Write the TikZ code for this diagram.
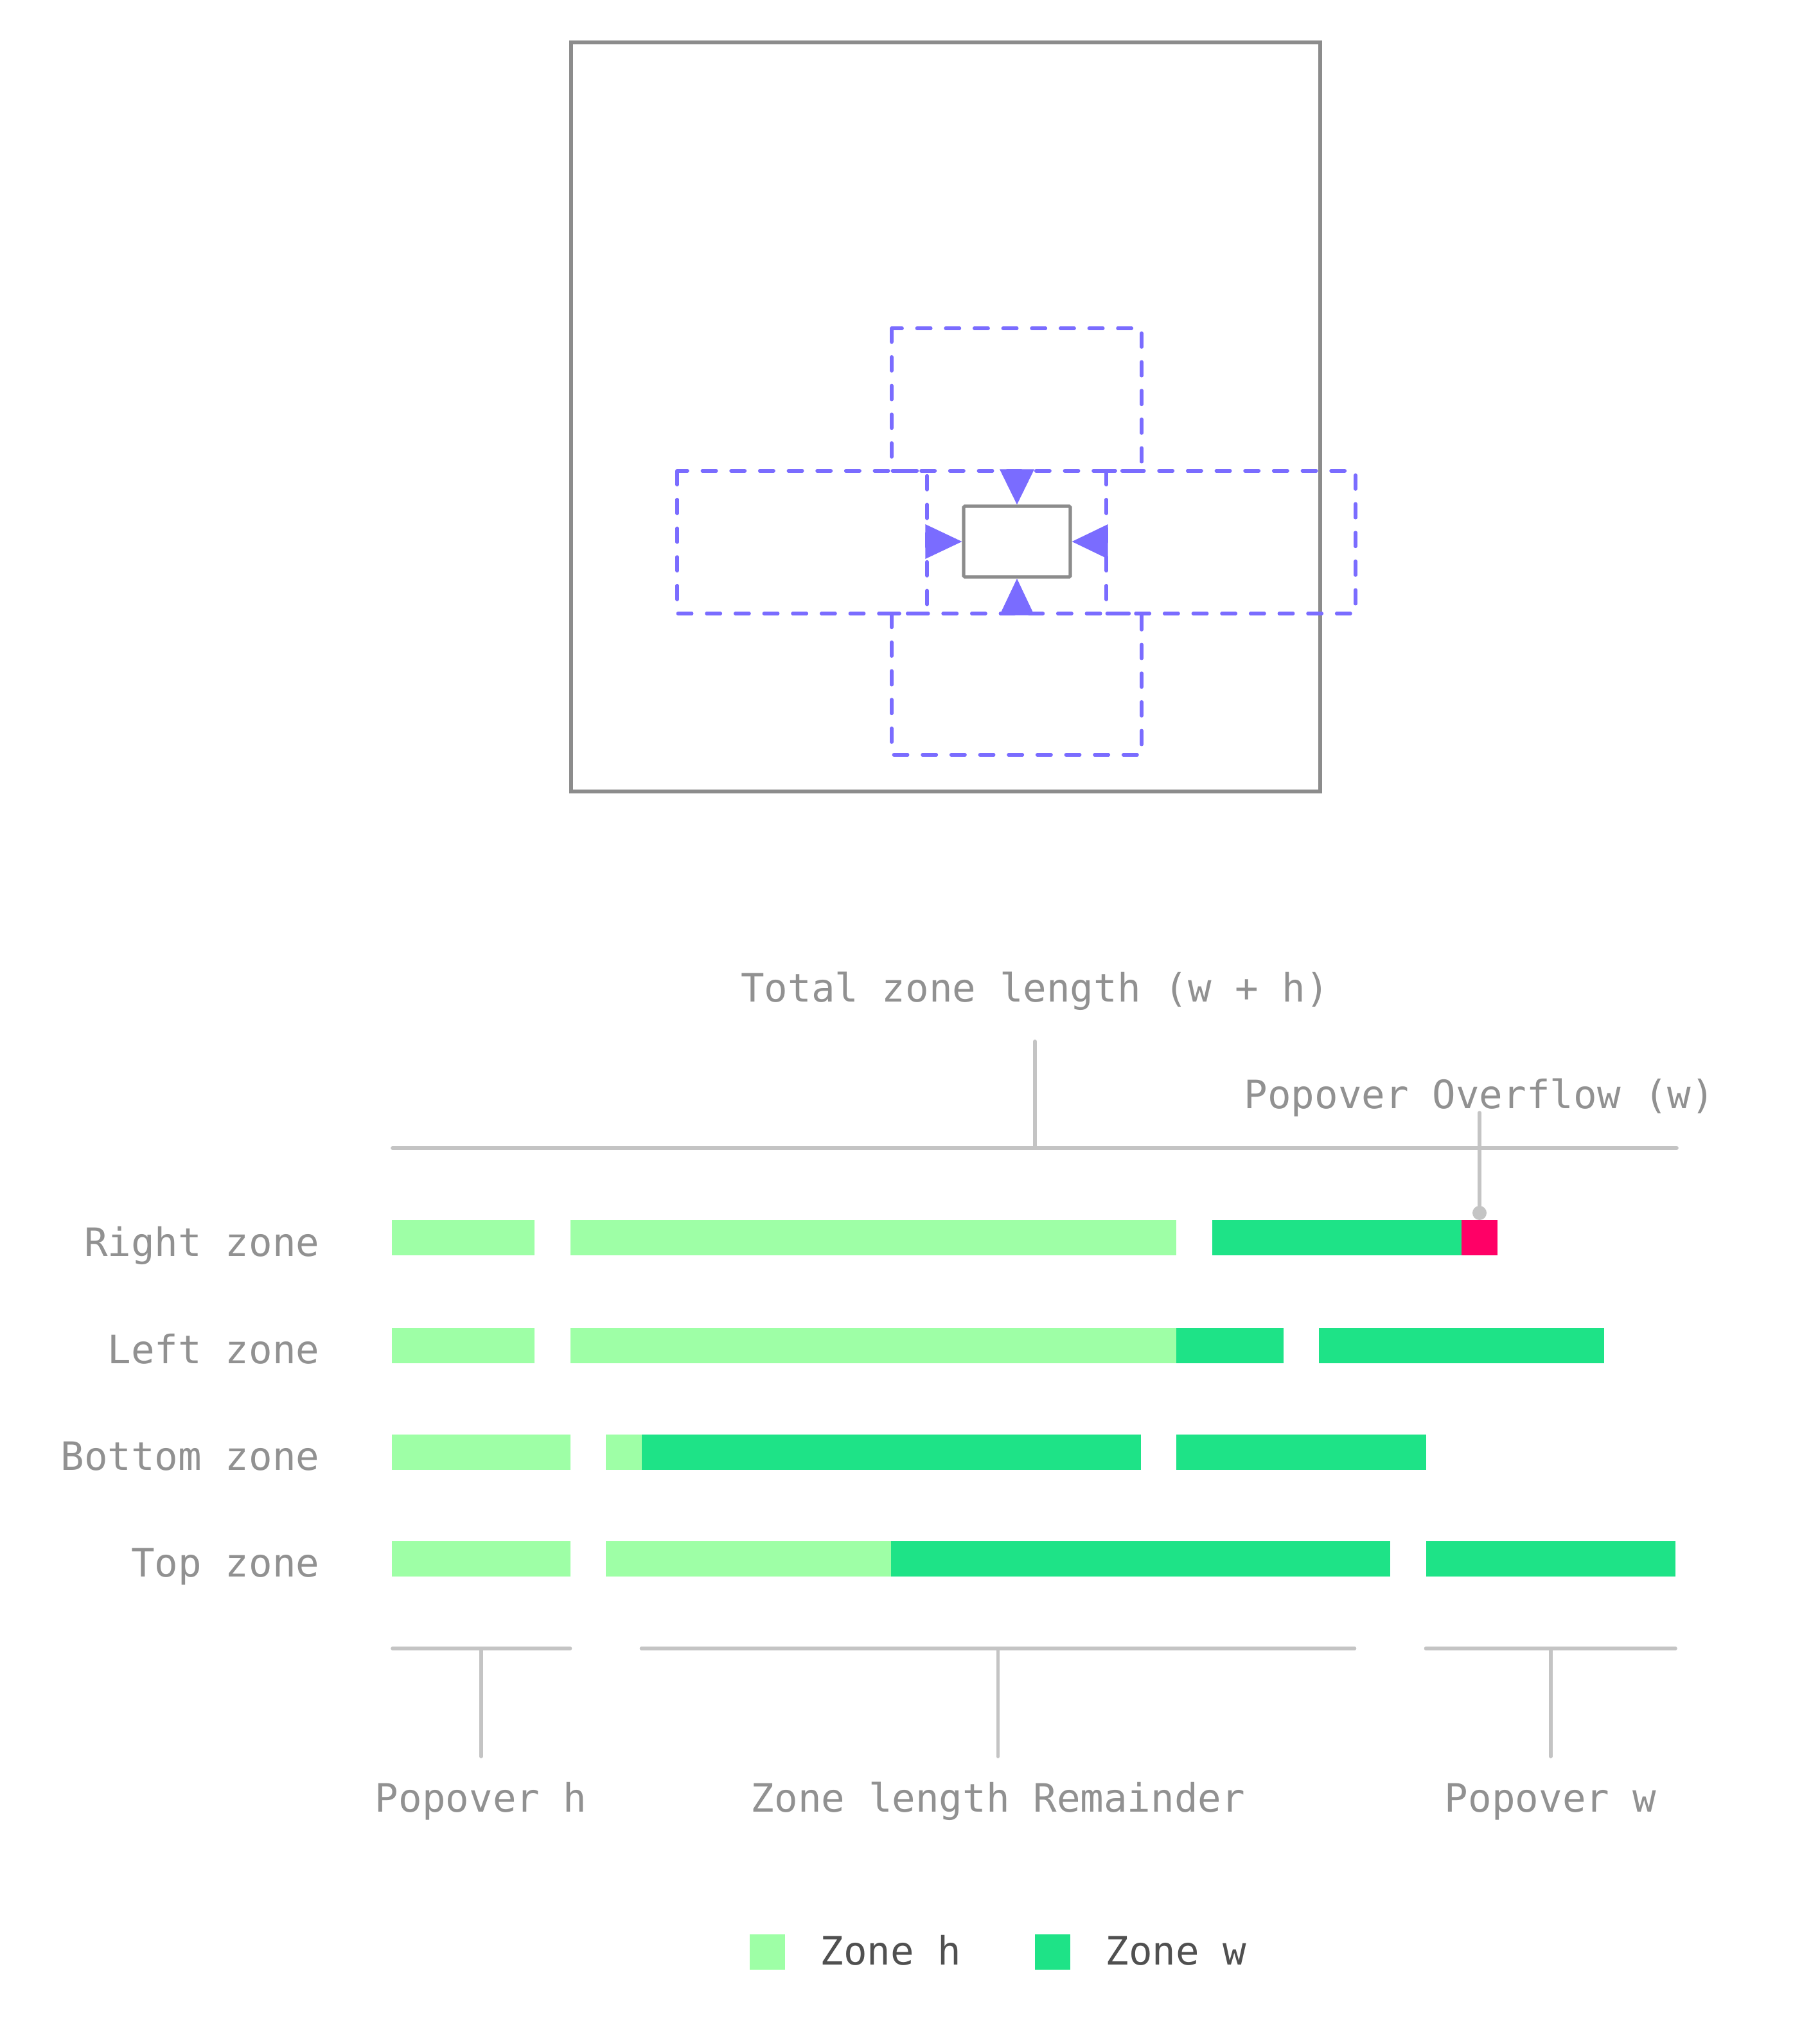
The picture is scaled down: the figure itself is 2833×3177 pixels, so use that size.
\documentclass[tikz,border=0pt]{standalone}
\usepackage{fontspec}
\setmonofont{DejaVu Sans Mono}
\usetikzlibrary{arrows.meta}
\definecolor{gtext}{RGB}{145,145,145}
\definecolor{gdark}{RGB}{80,80,80}
\definecolor{gline}{RGB}{196,196,196}
\definecolor{gframe}{RGB}{140,140,140}
\definecolor{purp}{RGB}{122,108,255}
\definecolor{zh}{RGB}{158,255,166}
\definecolor{zw}{RGB}{30,227,135}
\definecolor{ovf}{RGB}{255,0,102}
\newcommand\zb[4]{\fill[#1] ({610+55.5*#2},#4) rectangle ({610+55.5*#3},{#4+55});}
\begin{document}
\begin{tikzpicture}[x=0.01cm,y=-0.01cm,
  lbl/.style={font=\fontsize{17.3pt}{20pt}\ttfamily, text=gtext, inner sep=0pt},
  leg/.style={font=\fontsize{17.3pt}{20pt}\ttfamily, text=gdark, inner sep=0pt},
  guide/.style={draw=gline, line width=1.6pt, line cap=round},
  dbox/.style={draw=purp, line width=1.55pt, dash pattern=on 6.1pt off 6.6pt, line cap=round},
  frame/.style={draw=gframe, line width=1.7pt},
  arr/.style={fill=purp}]
\useasboundingbox (0,0) rectangle (2833,3177);
\fill[white] (0,0) rectangle (2833,3177);

% ---------- top picture ----------
\draw[frame] (889,66) rectangle (2055,1232);
\draw[dbox] (1388,511) rectangle (1777,733);
\draw[dbox] (1054,733) rectangle (1443,955);
\draw[dbox] (1722,733) rectangle (2110,955);
\draw[dbox] (1388,955) rectangle (1777,1175);
\node[draw=gframe, line width=1.5pt, rounded corners=0.5pt, minimum width=166*0.01cm, minimum height=110*0.01cm, inner sep=0pt] (pop) at (1583,843) {};
\fill[arr] (pop.north) -- ++(-27,-55) -- ++(54,0) -- cycle;
\fill[arr] (pop.south) -- ++(-27,57) -- ++(54,0) -- cycle;
\fill[arr] (pop.west) -- ++(-57,-27) -- ++(0,54) -- cycle;
\fill[arr] (pop.east) -- ++(56,-27) -- ++(0,54) -- cycle;

% ---------- labels above ----------
\node[lbl, anchor=base] (total) at (1611,1559) {Total zone length (w + h)};
\node[lbl, anchor=base] (over) at (2303,1725) {Popover Overflow (w)};
\coordinate (tl) at (611,1787);
\coordinate (tr) at (2610,1787);
\coordinate (tt) at (1611,1621);
\coordinate (tb) at (1611,1787);
\coordinate (ot) at (2303,1732);
\coordinate (ob) at (2303,1888);
\draw[guide] (tl) -- (tr);
\draw[guide] (tt) -- (tb);
\draw[guide] (ot) -- (ob);
\fill[gline] (ob) circle (11);

% ---------- rows ----------
\node[lbl, anchor=base east] (rz) at (498,1955) {Right zone};
\node[lbl, anchor=base east] (lz) at (498,2122) {Left zone};
\node[lbl, anchor=base east] (bz) at (498,2288) {Bottom zone};
\node[lbl, anchor=base east] (tz) at (498,2454) {Top zone};

\zb{zh}{0}{4}{1899}
\zb{zh}{5}{22}{1899}
\zb{zw}{23}{30}{1899}
\zb{ovf}{30}{31}{1899}

\zb{zh}{0}{4}{2067}
\zb{zh}{5}{22}{2067}
\zb{zw}{22}{25}{2067}
\zb{zw}{26}{34}{2067}

\zb{zh}{0}{5}{2233}
\zb{zh}{6}{7}{2233}
\zb{zw}{7}{21}{2233}
\zb{zw}{22}{29}{2233}

\zb{zh}{0}{5}{2399}
\zb{zh}{6}{14}{2399}
\zb{zw}{14}{28}{2399}
\zb{zw}{29}{36}{2399}

% ---------- bottom brackets ----------
\coordinate (b1l) at (611,2566);
\coordinate (b1r) at (887.5,2566);
\coordinate (b2l) at (998.5,2566);
\coordinate (b2r) at (2108.5,2566);
\coordinate (b3l) at (2219.5,2566);
\coordinate (b3r) at (2608,2566);
\draw[guide] (b1l) -- (b1r);
\draw[guide] (b2l) -- (b2r);
\draw[guide] (b3l) -- (b3r);
\coordinate (k1) at (748.75,2566);
\coordinate (k2) at (1553.5,2566);
\coordinate (k3) at (2413.75,2566);
\coordinate (k1e) at (748.75,2734);
\coordinate (k2e) at (1553.5,2734);
\coordinate (k3e) at (2413.75,2734);
\draw[guide] (k1) -- (k1e);
\draw[guide] (k2) -- (k2e);
\draw[guide] (k3) -- (k3e);
\node[lbl, anchor=base] (ph) at (748.75,2820) {Popover h};
\node[lbl, anchor=base] (zr) at (1553.5,2820) {Zone length Remainder};
\node[lbl, anchor=base] (pw) at (2413.75,2820) {Popover w};

% ---------- legend ----------
\fill[zh] (1167,3011) rectangle (1222,3066);
\fill[zw] (1611,3011) rectangle (1666,3066);
\node[leg, anchor=base west] (lh) at (1276,3058) {Zone h};
\node[leg, anchor=base west] (lw) at (1720,3058) {Zone w};
\end{tikzpicture}
\end{document}
